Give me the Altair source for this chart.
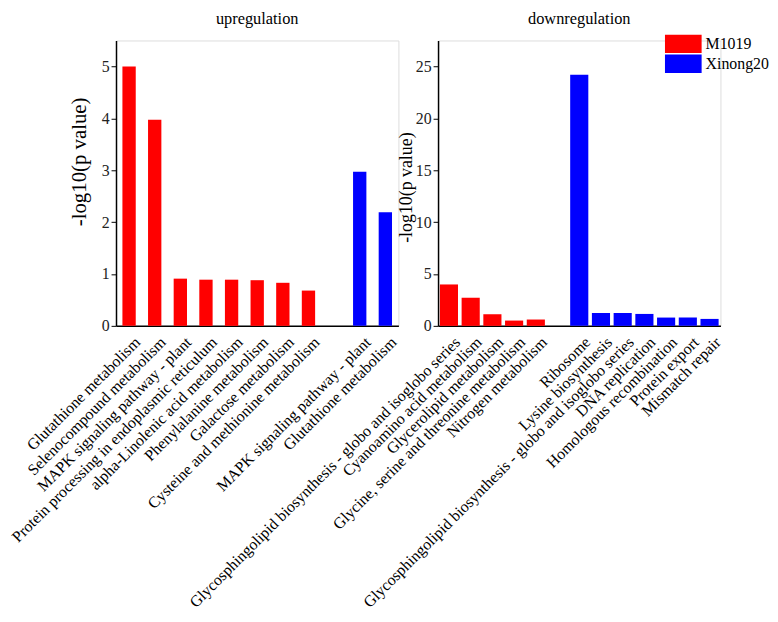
import altair as alt
import pandas as pd

# Upregulated pathways
up_terms_m1019 = [
    "Glutathione metabolism",
    "Selenocompound metabolism",
    "MAPK signaling pathway - plant",
    "Protein processing in endoplasmic reticulum",
    "alpha-Linolenic acid metabolism",
    "Phenylalanine metabolism",
    "Galactose metabolism",
    "Cysteine and methionine metabolism",
]
up_values_m1019 = [5.0, 3.97, 0.91, 0.89, 0.89, 0.88, 0.83, 0.68]
up_terms_xinong = [
    "MAPK signaling pathway - plant",
    "Glutathione metabolism",
]
up_values_xinong = [2.97, 2.19]

# Downregulated pathways
down_terms_m1019 = [
    "Glycosphingolipid biosynthesis - globo and isoglobo series",
    "Cyanoamino acid metabolism",
    "Glycerolipid metabolism",
    "Glycine, serine and threonine metabolism",
    "Nitrogen metabolism",
]
down_values_m1019 = [3.99, 2.71, 1.12, 0.51, 0.61]
down_terms_xinong = [
    "Ribosome",
    "Lysine biosynthesis",
    "Glycosphingolipid biosynthesis - globo and isoglobo series",
    "DNA replication",
    "Homologous recombination",
    "Protein export",
    "Mismatch repair",
]
down_values_xinong = [24.2, 1.24, 1.24, 1.15, 0.80, 0.80, 0.67]

groups = ["M1019", "Xinong20"]
colors = ["#ff0000", "#0000ff"]
FONT = "Liberation Serif"


def build(terms_a, values_a, terms_b, values_b):
    rows = []
    for t, v in zip(terms_a, values_a):
        rows.append({"key": groups[0] + "|" + t, "value": v, "group": groups[0]})
    for t, v in zip(terms_b, values_b):
        rows.append({"key": groups[1] + "|" + t, "value": v, "group": groups[1]})
    df = pd.DataFrame(rows)
    # empty slot between the two groups
    domain = [groups[0] + "|" + t for t in terms_a] + ["gap|"] + [groups[1] + "|" + t for t in terms_b]
    return df, domain


def panel(df, domain, title, title_offset, ymax, yticks, pad_inner, pad_outer,
          title_x, title_y, title_size, legend):
    return alt.Chart(df).mark_bar().encode(
        x=alt.X("key:N",
                scale=alt.Scale(domain=domain, paddingInner=pad_inner, paddingOuter=pad_outer),
                axis=alt.Axis(title=None, labelAngle=-45, labelAlign="right", labelBaseline="top",
                              labelExpr="split(datum.value, '|')[1]", ticks=False,
                              labelFont=FONT, labelFontSize=16, labelColor="black",
                              labelPadding=8, labelOffset=3,
                              domainColor="black", domainWidth=1.5,
                              labelOverlap=False, labelLimit=0)),
        y=alt.Y("value:Q",
                scale=alt.Scale(domain=[0, ymax], nice=False),
                axis=alt.Axis(title="-log10(p value)", values=yticks, grid=False,
                              tickSize=5, tickColor="black", domainColor="black", domainWidth=1.5,
                              labelFont=FONT, labelFontSize=16, labelColor="#222222",
                              titleFont=FONT, titleFontSize=title_size, titleFontWeight="normal",
                              titleColor="black", titleX=title_x, titleY=title_y)),
        color=alt.Color("group:N", scale=alt.Scale(domain=groups, range=colors), legend=legend),
    ).properties(
        width=285,
        height=288,
        title=alt.TitleParams(title, font=FONT, fontSize=16.5, fontWeight="normal",
                              color="black", offset=title_offset, anchor="middle", frame="group"),
    )


up_df, up_domain = build(up_terms_m1019, up_values_m1019, up_terms_xinong, up_values_xinong)
down_df, down_domain = build(down_terms_m1019, down_values_m1019, down_terms_xinong, down_values_xinong)

left = panel(up_df, up_domain, "upregulation", 13, 5.5, [0, 1, 2, 3, 4, 5],
             0.48, 0.25, -27, 122, 21, None)
right = panel(down_df, down_domain, "downregulation", 7, 27.5, [0, 5, 10, 15, 20, 25],
              0.165, 0.085, -23, 148, 18,
              alt.Legend(title=None, orient="none", legendX=238, legendY=-6,
                         symbolType="M-2,-1H2V1H-2Z", symbolSize=342,
                         symbolStrokeWidth=0, symbolOpacity=1, rowPadding=1,
                         labelFont=FONT, labelFontSize=16, labelColor="black",
                         labelOffset=13))

chart = alt.hconcat(left, right, spacing=40, bounds="flush").resolve_scale(
    x="independent", y="independent"
).resolve_legend(
    color="independent"
).properties(
    padding={"left": 0, "top": 0, "right": 0, "bottom": 0}
).configure_view(
    stroke="transparent",
    strokeWidth=0
).configure(
    background="white"
)

chart.save("out.html", embed_options={"renderer": "svg", "actions": False})
